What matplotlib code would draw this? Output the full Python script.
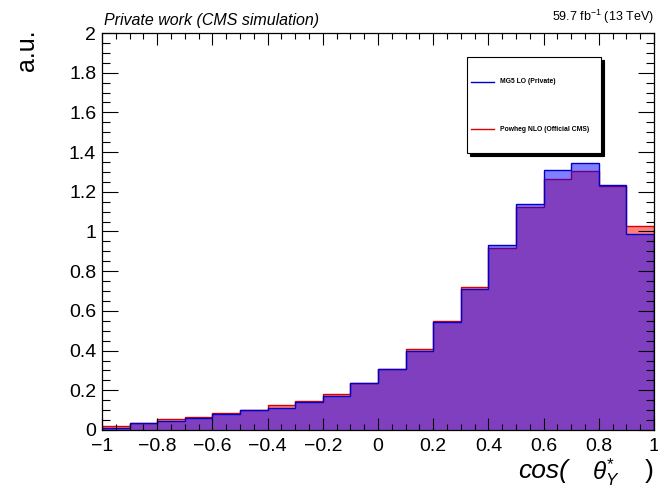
import matplotlib
matplotlib.use("Agg")
import matplotlib.pyplot as plt
import numpy as np
from matplotlib.patches import Rectangle
from matplotlib.lines import Line2D
from matplotlib.ticker import MultipleLocator, FuncFormatter

plt.rcParams['font.family'] = ['Liberation Sans', 'DejaVu Sans']
plt.rcParams['mathtext.fontset'] = 'custom'
plt.rcParams['mathtext.rm'] = 'Liberation Sans'
plt.rcParams['mathtext.it'] = 'Liberation Sans:italic'
plt.rcParams['mathtext.bf'] = 'Liberation Sans:bold'

# Binning of cos(theta*_Y)
x_low, x_high, n_bins = -1.0, 1.0, 20
bin_edges = np.linspace(x_low, x_high, n_bins + 1)

# Normalised shapes (a.u.)
mg5_lo = [0.012, 0.037, 0.043, 0.062, 0.083, 0.100, 0.113, 0.143, 0.173, 0.235,
          0.305, 0.400, 0.545, 0.710, 0.933, 1.137, 1.310, 1.345, 1.235, 0.988]
powheg_nlo = [0.020, 0.035, 0.055, 0.067, 0.085, 0.100, 0.124, 0.148, 0.181, 0.236,
              0.308, 0.408, 0.547, 0.720, 0.918, 1.122, 1.262, 1.305, 1.230, 1.028]

legend_labels = ["MG5 LO (Private)", "Powheg NLO (Official CMS)"]

W, H = 658, 487
fig = plt.figure(figsize=(W / 100, H / 100), dpi=100)


def fx(px):
    return px / W


def fy(py):
    return 1 - py / H


ax = fig.add_axes([fx(102), fy(430), fx(654) - fx(102), fy(33) - fy(430)])

# Powheg first, MG5 drawn over it
ax.stairs(powheg_nlo, bin_edges, fill=True, facecolor=(1, 0, 0, 0.5), linewidth=0)
ax.stairs(powheg_nlo, bin_edges, color='#d80000', linewidth=1.0)
ax.stairs(mg5_lo, bin_edges, fill=True, facecolor=(0, 0, 1, 0.5), linewidth=0)
ax.stairs(mg5_lo, bin_edges, color='#0000c8', linewidth=1.0)

ax.set_xlim(x_low, x_high)
ax.set_ylim(0, 2)


def root_fmt(v, pos):
    s = f"{v:.1f}".rstrip('0').rstrip('.')
    if s in ("-0", ""):
        s = "0"
    return s.replace('-', '\u2212')


ax.xaxis.set_major_locator(MultipleLocator(0.2))
ax.xaxis.set_minor_locator(MultipleLocator(0.05))
ax.yaxis.set_major_locator(MultipleLocator(0.2))
ax.yaxis.set_minor_locator(MultipleLocator(0.05))
ax.xaxis.set_major_formatter(FuncFormatter(root_fmt))
ax.yaxis.set_major_formatter(FuncFormatter(root_fmt))

ax.tick_params(axis='both', which='both', direction='in', top=True, right=True,
               width=0.8, colors='black', labelsize=14)
ax.tick_params(axis='x', which='major', length=8.6, pad=6.0)
ax.tick_params(axis='x', which='minor', length=4.3)
ax.tick_params(axis='y', which='major', length=11.5, pad=4.2)
ax.tick_params(axis='y', which='minor', length=5.8)
for sp in ax.spines.values():
    sp.set_linewidth(0.9)
    sp.set_color('black')

# Legend box with solid shadow
bx0, by0, bx1, by1 = 466.7, 57.3, 601.0, 153.3
shadow = Rectangle((fx(bx0 + 3), fy(by1 + 3)), fx(bx1) - fx(bx0), fy(by0) - fy(by1),
                   transform=fig.transFigure, facecolor='black', edgecolor='black', lw=0.8)
box = Rectangle((fx(bx0), fy(by1)), fx(bx1) - fx(bx0), fy(by0) - fy(by1),
                transform=fig.transFigure, facecolor='white', edgecolor='black', lw=0.8)
fig.add_artist(shadow)
fig.add_artist(box)
for label, color, ypx in [(legend_labels[0], '#0000c8', 81.7),
                          (legend_labels[1], '#d80000', 129.3)]:
    fig.add_artist(Line2D([fx(471), fx(494)], [fy(ypx), fy(ypx)],
                          transform=fig.transFigure, color=color, lw=1.0))
    fig.text(fx(500), fy(ypx), label, fontsize=4.9, fontweight='bold',
             va='center', ha='left')

# Header texts
fig.text(fx(104), fy(25), "Private work (CMS simulation)", style='italic',
         fontsize=11.5, ha='left', va='baseline')
fig.text(fx(654), fy(20.7), r"59.7 fb$^{-1}$ (13 TeV)", fontsize=9,
         ha='right', va='baseline')

# Axis titles
fig.text(fx(27), fy(29), "a.u.", rotation=90, fontsize=18, ha='center', va='top')
fig.text(fx(568), fy(478), "cos(", style='italic', fontsize=19, ha='right', va='baseline')
fig.text(fx(592), fy(479), r"$\theta^{*}_{Y}$", fontsize=17.5, ha='left', va='baseline')
fig.text(fx(654), fy(478), ")", fontsize=19, ha='right', va='baseline')

fig.savefig("out.png", dpi=100)
